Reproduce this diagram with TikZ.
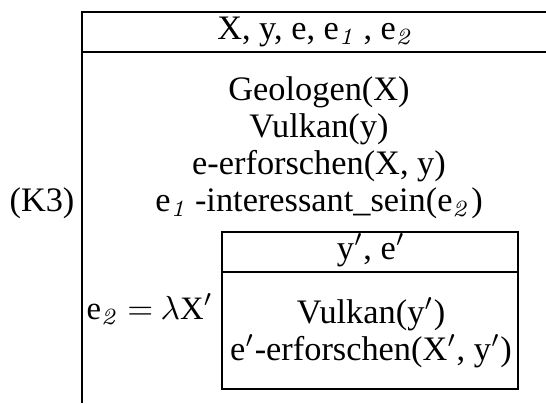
\documentclass[tikz,border=0pt]{standalone}
\usepackage[no-math]{fontspec}
\setmainfont{Liberation Serif}
\begin{document}
\begin{tikzpicture}[x=0.3pt,y=-0.3pt,
  rule/.style={line width=0.85pt},
  txt/.style={inner sep=0pt,outer sep=0pt,anchor=base,font=\fontsize{10.3}{12}\selectfont}]
\useasboundingbox (0,0) rectangle (546,403);
% outer DRS frame
\coordinate (tr) at (546,12);
\coordinate (tl) at (82,12);
\coordinate (bl) at (82,403);
\coordinate (ml) at (82,52);
\coordinate (mr) at (546,52);
\draw[rule] (tr) -- (tl) -- (bl);
\draw[rule] (ml) -- (mr);
% inner box
\coordinate (itl) at (222,232);
\coordinate (ibr) at (518,389);
\coordinate (iml) at (222,272);
\coordinate (imr) at (518,272);
\draw[rule] (itl) rectangle (ibr);
\draw[rule] (iml) -- (imr);
% texts
\node[txt] (head) at (316,40) {X, y, e, e$_{\mathit{1}}$\,, e$_{\mathit{2}}$};
\node[txt] (c1) at (319,100) {Geologen(X)};
\node[txt] (c2) at (319,137) {Vulkan(y)};
\node[txt] (c3) at (319,174) {e-erforschen(X, y)};
\node[txt] (c4) at (319,211) {e$_{\mathit{1}}$\,-interessant\_sein(e$_{\mathit{2}}$)};
\node[txt] (lab) at (42,211) {(K3)};
\node[txt,anchor=base east,font=\fontsize{9.8}{12}\selectfont] (lam) at (213,319) {e$_{\mathit{2}}\mskip\medmuskip{=}\mskip\medmuskip\lambda$X$'$};
\node[txt] (ihead) at (371,259) {y$'$, e$'$};
\node[txt] (i1) at (371,323) {Vulkan(y$'$)};
\node[txt] (i2) at (371,360) {e$'$-erforschen(X$'$, y$'$)};
\end{tikzpicture}
\end{document}
